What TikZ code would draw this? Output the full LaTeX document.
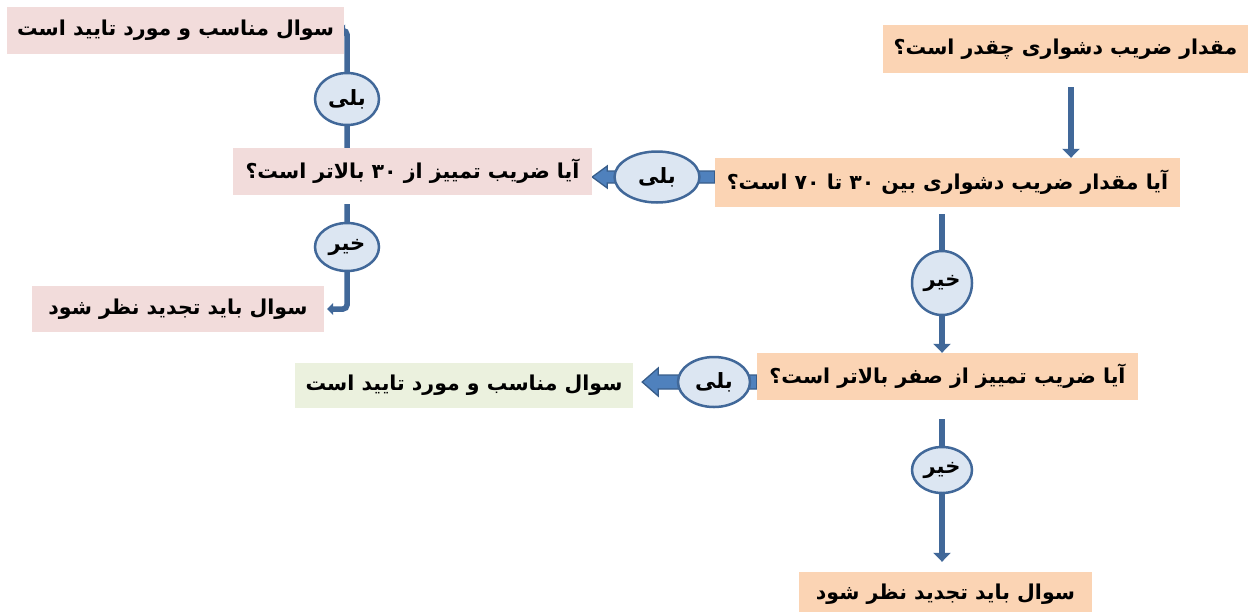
\documentclass[tikz,border=0pt]{standalone}
\usepackage{fontspec}
\newfontfamily\arabicfont[Script=Arabic]{DejaVu Sans}
\TeXXeTstate=1
\usetikzlibrary{shapes.geometric,arrows.meta,calc}
\pgfdeclarelayer{bg}
\pgfsetlayers{bg,main}
\definecolor{orangebox}{HTML}{FBD4B4}
\definecolor{pinkbox}{HTML}{F2DCDB}
\definecolor{greenbox}{HTML}{EBF1DE}
\definecolor{lineblue}{HTML}{416899}
\definecolor{ellfill}{HTML}{DCE6F2}
\definecolor{arrowfill}{HTML}{4F81BD}
\definecolor{arrowborder}{HTML}{385D8A}
\newcommand{\fatarr}[5]{%
  \path let \p1=(#1), \p2=(#2) in [draw=arrowborder, fill=arrowfill, line width=1.3pt, line join=miter]
  (\x1,\y2+#3pt) -- (\x2+#5pt,\y2+#3pt) -- (\x2+#5pt,\y2+#4pt) -- (\x2,\y2) --
  (\x2+#5pt,\y2-#4pt) -- (\x2+#5pt,\y2-#3pt) -- (\x1,\y2-#3pt) -- cycle;}
\tikzset{
  box/.style={rectangle, inner sep=0pt, font=\arabicfont\bfseries\fontsize{20.5}{24}\selectfont},
  lbl/.style={ellipse, draw=lineblue, line width=2.5pt, fill=ellfill, inner sep=0pt,
    font=\arabicfont\bfseries\fontsize{21}{24}\selectfont},
  conn/.style={draw=lineblue, line width=5.5pt},
  bigtip/.style={-{Triangle[width=17pt,length=9pt]}},
  smalltip/.style={-{Triangle[width=12pt,length=6pt]}}
}
\begin{document}
\begin{tikzpicture}[x=1pt,y=-1pt]
\useasboundingbox (0,0) rectangle (1249,611);
% boxes
\node[box, fill=orangebox, minimum width=365, minimum height=48] (A) at (1065.5,49) {\beginR مقدار ضریب دشواری چقدر است؟\endR};
\node[box, fill=orangebox, minimum width=465, minimum height=49] (B) at (947.5,182.5) {\beginR آیا مقدار ضریب دشواری بین \beginL۳۰\endL{} تا \beginL۷۰\endL{} است؟\endR};
\node[box, fill=pinkbox, minimum width=359, minimum height=47] (C) at (412.5,171.5) {\beginR آیا ضریب تمییز از \beginL۳۰\endL{} بالاتر است؟\endR};
\node[box, fill=pinkbox, minimum width=337, minimum height=47] (D) at (175.5,30.5) {\beginR سوال مناسب و مورد تایید است\endR};
\node[box, fill=pinkbox, minimum width=292, minimum height=46] (E) at (178,309) {\beginR سوال باید تجدید نظر شود\endR};
\node[box, fill=orangebox, minimum width=381, minimum height=47] (F) at (947.5,376.5) {\beginR آیا ضریب تمییز از صفر بالاتر است؟\endR};
\node[box, fill=greenbox, minimum width=338, minimum height=45] (G) at (464,385.5) {\beginR سوال مناسب و مورد تایید است\endR};
\node[box, fill=orangebox, minimum width=293, minimum height=44] (H) at (945.5,594) {\beginR سوال باید تجدید نظر شود\endR};
% labels
\node[lbl, minimum width=85, minimum height=51] (e1) at (657,177) {\beginR بلی\endR};
\node[lbl, minimum width=60, minimum height=64] (e2) at (942,283) {\beginR خیر\endR};
\node[lbl, minimum width=72, minimum height=50] (e3) at (714,382) {\beginR بلی\endR};
\node[lbl, minimum width=60, minimum height=46] (e4) at (942,470) {\beginR خیر\endR};
\node[lbl, minimum width=64, minimum height=52] (e5) at (347,99) {\beginR بلی\endR};
\node[lbl, minimum width=64, minimum height=48] (e6) at (347,247) {\beginR خیر\endR};
\coordinate (ax) at (1071,0);
% connectors
\begin{pgfonlayer}{bg}
\draw[conn, bigtip] ($(ax|-A.south)+(0,14)$) -- (ax|-B.north);
\draw[conn, bigtip] ($(e2|-B.south)+(0,7)$) -- (e2|-F.north);
\draw[conn, bigtip] ($(e4|-F.south)+(0,19)$) -- ($(e4|-H.north)+(0,-10)$);
\draw[conn, smalltip, rounded corners=4pt] (e5|-C.north) |- ($(D.east)+(-5,0)$);
\draw[conn, smalltip, rounded corners=4pt] ($(e6|-C.south)+(0,9)$) |- ($(E.east)+(3,0)$);
\fatarr{B.west}{C.east|-e1}{6}{11}{15}
\fatarr{F.west}{$(G.east|-e3)+(9,0)$}{7}{14}{16}
\end{pgfonlayer}
\end{tikzpicture}
\end{document}
